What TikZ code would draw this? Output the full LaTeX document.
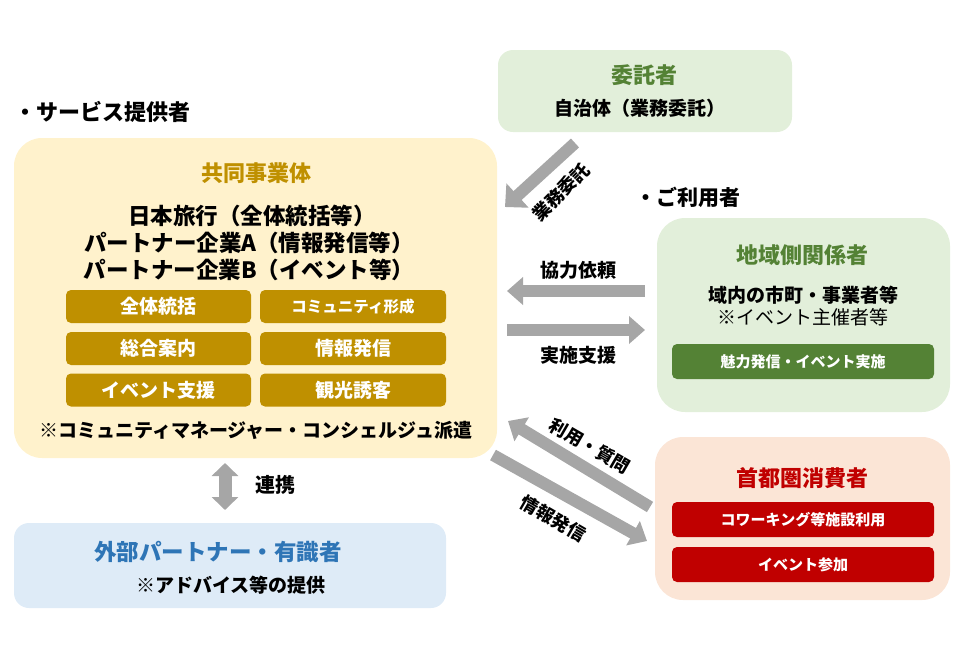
\documentclass[tikz,border=0pt]{standalone}
\usepackage{fontspec}
\setmainfont{Noto Sans CJK JP}
\usetikzlibrary{arrows.meta}

\definecolor{yellowbg}{HTML}{FFF2CC}
\definecolor{gold}{HTML}{BF9000}
\definecolor{greenbg}{HTML}{E2EFDA}
\definecolor{darkgreen}{HTML}{548235}
\definecolor{peachbg}{HTML}{FBE5D6}
\definecolor{darkred}{HTML}{C00000}
\definecolor{bluebg}{HTML}{DEEBF7}
\definecolor{bluetext}{HTML}{2E75B6}
\definecolor{arrowgray}{HTML}{A6A6A6}

\newcommand\pxfont[1]{\fontsize{#1}{#1}\selectfont}

\tikzset{
  panel/.style={rounded corners=28pt, inner sep=0pt},
  card/.style={rounded corners=15pt, inner sep=0pt},
  tag/.style={rounded corners=5pt, inner sep=0pt, text=white, font=\bfseries\pxfont{19}},
  head/.style={font=\bfseries\pxfont{22}},
  body/.style={font=\bfseries\pxfont{19}},
  member/.style={font=\bfseries\pxfont{22.5}},
  flow/.style={draw=arrowgray, line width=12pt, -{Triangle[width=27pt,length=16pt]}},
}

\begin{document}
\begin{tikzpicture}[x=1pt, y=-1pt]
 \useasboundingbox (0,0) rectangle (960,662);

 % service provider
 \node[head, anchor=west] (svc) at (11,112) {・サービス提供者};
 \node[panel, fill=yellowbg, minimum width=483pt, minimum height=320pt] (kyodo) at (255.5,298) {};
 \node[head, text=gold] (kyodoT) at (256,173) {共同事業体};
 \node[member] (nta) at (252,216) {日本旅行（全体統括等）};
 \node[member] (pta) at (249,243) {パートナー企業A（情報発信等）};
 \node[member] (ptb) at (249,270) {パートナー企業B（イベント等）};
 \node[tag, fill=gold, minimum width=185pt, minimum height=33pt] (t1) at (158.5,306.5) {全体統括};
 \node[tag, fill=gold, minimum width=186pt, minimum height=33pt, font=\bfseries\pxfont{15.5}] (t2) at (353,306.5) {コミュニティ形成};
 \node[tag, fill=gold, minimum width=185pt, minimum height=33pt] (t3) at (158.5,348.5) {総合案内};
 \node[tag, fill=gold, minimum width=186pt, minimum height=33pt] (t4) at (353,348.5) {情報発信};
 \node[tag, fill=gold, minimum width=185pt, minimum height=33pt] (t5) at (158.5,390) {イベント支援};
 \node[tag, fill=gold, minimum width=186pt, minimum height=33pt] (t6) at (353,390) {観光誘客};
 \node[body] (dispatch) at (256,430) {※コミュニティマネージャー・コンシェルジュ派遣};

 % outsourcer
 \node[card, fill=greenbg, minimum width=294pt, minimum height=82pt] (itaku) at (645,91) {};
 \node[head, text=darkgreen] (itakuT) at (644,75) {委託者};
 \node[body] (jichi) at (640,108) {自治体（業務委託）};

 % users
 \node[head, font=\bfseries\pxfont{21}, anchor=west] (usr) at (632,197) {・ご利用者};
 \node[panel, fill=greenbg, minimum width=293pt, minimum height=194pt] (chiiki) at (803.5,315) {};
 \node[head, text=darkgreen] (chiikiT) at (802,255) {地域側関係者};
 \node[body] (shicho) at (803,295) {域内の市町・事業者等};
 \node[font=\pxfont{19}] (shusai) at (803,317) {※イベント主催者等};
 \node[tag, fill=darkgreen, minimum width=262pt, minimum height=35pt, font=\bfseries\pxfont{15}] (miryoku) at (803,361.5) {魅力発信・イベント実施};

 \node[panel, fill=peachbg, minimum width=295pt, minimum height=163pt] (shuto) at (802.5,518.5) {};
 \node[head, text=darkred] (shutoT) at (802,478) {首都圏消費者};
 \node[tag, fill=darkred, minimum width=262pt, minimum height=35pt, font=\bfseries\pxfont{15}] (cowork) at (803,519.5) {コワーキング等施設利用};
 \node[tag, fill=darkred, minimum width=262pt, minimum height=35pt, font=\bfseries\pxfont{15}] (event) at (803,564.5) {イベント参加};

 % external partners
 \node[card, fill=bluebg, minimum width=432pt, minimum height=85pt] (gaibu) at (230,565.5) {};
 \node[head, font=\bfseries\pxfont{22.5}, text=bluetext] (gaibuT) at (218,552) {外部パートナー・有識者};
 \node[body] (advice) at (231,585) {※アドバイス等の提供};

 % arrows
 \coordinate (itakuS) at (575,143);
 \coordinate (itakuE) at (505,207);
 \draw[flow, -{Triangle[width=32pt,length=17pt]}] (itakuS) -- (itakuE);
 \node[body, font=\bfseries\pxfont{18}, rotate=45] (lbItaku) at (561,192) {業務委託};

 \coordinate (kyoS) at (645,291);
 \coordinate (kyoE) at (507,291);
 \draw[flow] (kyoS) -- (kyoE);
 \node[body] (lbKyo) at (578,270) {協力依頼};

 \coordinate (jisS) at (507,330);
 \coordinate (jisE) at (645,330);
 \draw[flow] (jisS) -- (jisE);
 \node[body] (lbJis) at (578,355) {実施支援};

 \coordinate (riyoS) at (650,507);
 \coordinate (riyoE) at (508,421);
 \draw[flow] (riyoS) -- (riyoE);
 \node[body, font=\bfseries\pxfont{18}, rotate=-30] (lbRiyo) at (590,446) {利用・質問};

 \coordinate (johoS) at (493,455);
 \coordinate (johoE) at (647,541);
 \draw[flow] (johoS) -- (johoE);
 \node[body, font=\bfseries\pxfont{18}, rotate=-30] (lbJoho) at (553,519) {情報発信};

 \coordinate (renS) at (225,463);
 \coordinate (renE) at (225,510);
 \draw[draw=arrowgray, line width=13pt, {Triangle[width=26pt,length=13pt]}-{Triangle[width=26pt,length=13pt]}] (renS) -- (renE);
 \node[body, font=\bfseries\pxfont{20}] (lbRen) at (275,485) {連携};
\end{tikzpicture}
\end{document}
